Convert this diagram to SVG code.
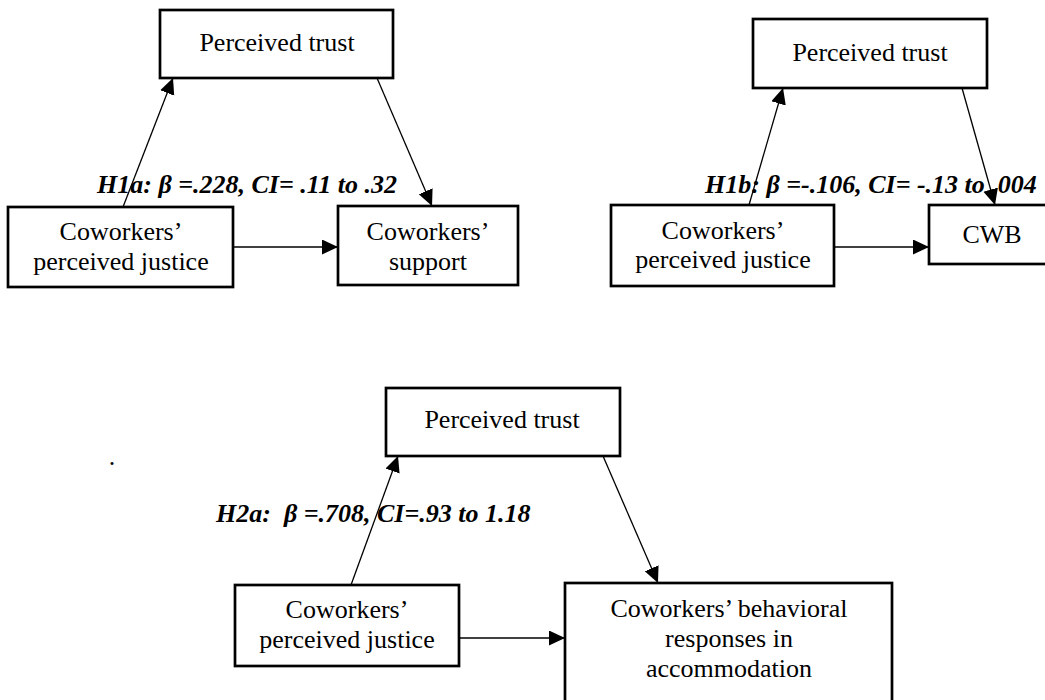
<svg xmlns="http://www.w3.org/2000/svg" width="1045" height="700" viewBox="0 0 1045 700">
<style>
.box{fill:#fff;stroke:#000;stroke-width:2.7}
.t{font-family:"Liberation Serif","Times New Roman",serif;font-size:26px;fill:#000;text-anchor:middle}
.lbl{font-family:"Liberation Serif","Times New Roman",serif;font-size:26px;font-weight:bold;font-style:italic;fill:#000;white-space:pre}
.c{stroke:#000;stroke-width:1.3;fill:none;marker-end:url(#ah)}
</style>
<defs>
<marker id="ah" markerUnits="userSpaceOnUse" markerWidth="18" markerHeight="16" refX="16" refY="7.5" orient="auto">
<path d="M0,0 L16,7.5 L0,15 Z" fill="#000"/>
</marker>
</defs>
<rect width="1045" height="700" fill="#fff"/>
<g id="connectors">
<line class="c" x1="123" y1="207" x2="173" y2="78"/>
<line class="c" x1="377" y1="78" x2="432" y2="206"/>
<line class="c" x1="233" y1="247" x2="338" y2="247"/>
<line class="c" x1="749" y1="205" x2="783" y2="88"/>
<line class="c" x1="962" y1="88" x2="995" y2="205"/>
<line class="c" x1="834" y1="247" x2="929" y2="247"/>
<line class="c" x1="351" y1="585" x2="398" y2="456"/>
<line class="c" x1="603" y1="456" x2="658" y2="583"/>
<line class="c" x1="459" y1="638" x2="565" y2="638"/>
</g>
<g id="pt1"><rect class="box" x="160" y="10" width="233" height="68"/><text class="t" x="277" y="51">Perceived trust</text></g>
<g id="cpj1"><rect class="box" x="8" y="207" width="225" height="80"/><text class="t" x="121" y="240">Coworkers’</text><text class="t" x="121" y="270">perceived justice</text></g>
<g id="cs1"><rect class="box" x="338" y="206" width="180" height="79"/><text class="t" x="428" y="240">Coworkers’</text><text class="t" x="428" y="270">support</text></g>
<text class="lbl" x="97" y="193">H1a: β =.228, CI= .11 to .32</text>
<g id="pt2"><rect class="box" x="753" y="19" width="234" height="69"/><text class="t" x="870" y="61">Perceived trust</text></g>
<g id="cpj2"><rect class="box" x="611" y="205" width="223" height="81"/><text class="t" x="723" y="239">Coworkers’</text><text class="t" x="723" y="268">perceived justice</text></g>
<g id="cwb"><rect class="box" x="929" y="205" width="130" height="59"/><text class="t" x="992" y="243">CWB</text></g>
<text class="lbl" x="705" y="193">H1b: β =-.106, CI= -.13 to .004</text>
<text class="t" x="112" y="465">.</text>
<g id="pt3"><rect class="box" x="386" y="388" width="234" height="68"/><text class="t" x="502" y="428">Perceived trust</text></g>
<g id="cpj3"><rect class="box" x="235" y="585" width="224" height="81"/><text class="t" x="347" y="618">Coworkers’</text><text class="t" x="347" y="648">perceived justice</text></g>
<g id="cbr"><rect class="box" x="565" y="583" width="327" height="140"/><text class="t" x="729" y="617">Coworkers’ behavioral</text><text class="t" x="729" y="647">responses in</text><text class="t" x="729" y="677">accommodation</text></g>
<text class="lbl" x="216" y="522">H2a:  β =.708, CI=.93 to 1.18</text>
</svg>
